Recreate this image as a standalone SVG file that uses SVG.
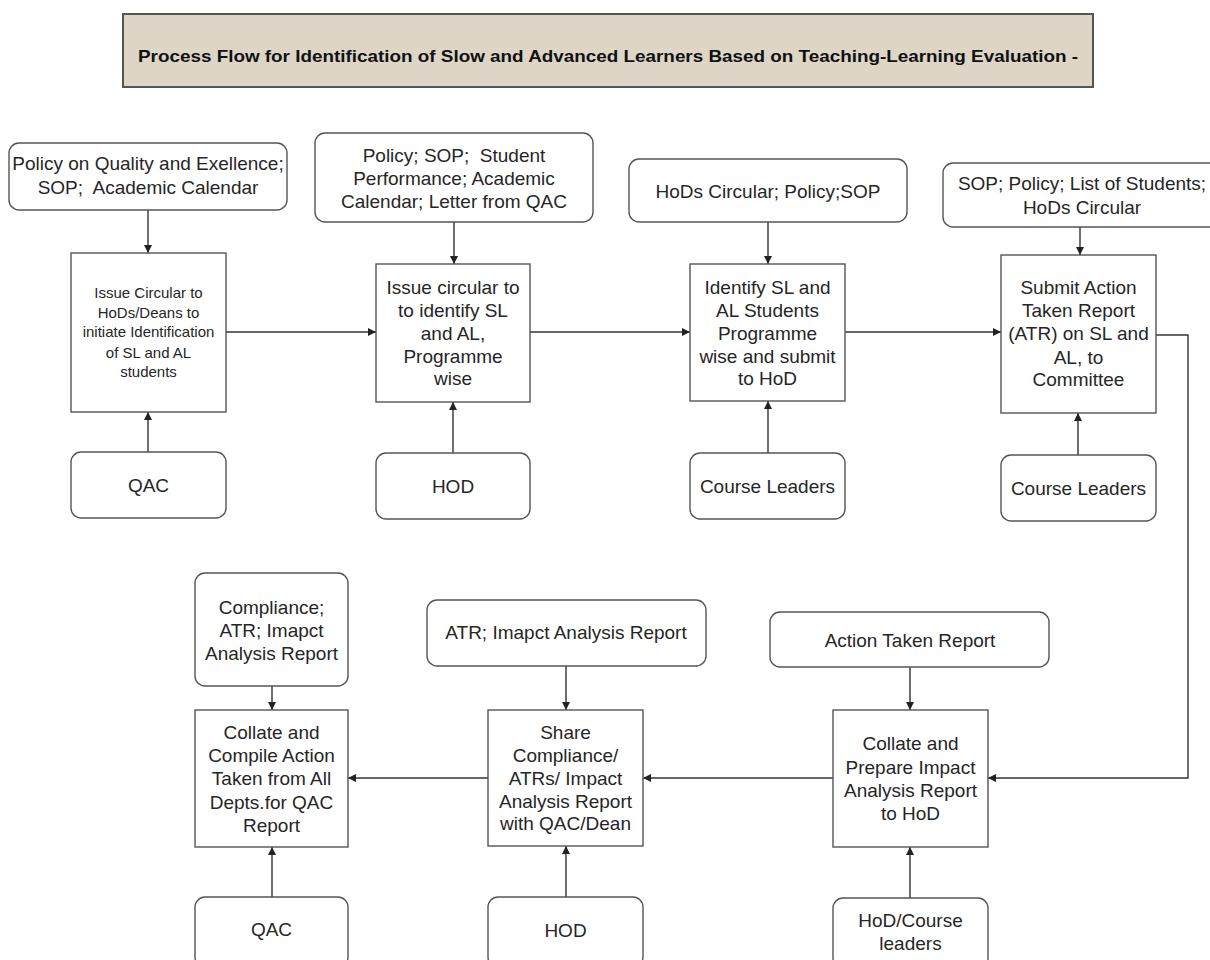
<svg xmlns="http://www.w3.org/2000/svg" width="1210" height="960" viewBox="0 0 1210 960">
<style>
.r{fill:#fff;stroke:#555;stroke-width:1.4}
.s{fill:#fff;stroke:#555;stroke-width:1.4}
.t{font-family:"Liberation Sans",Arial,sans-serif;font-size:19px;fill:#262626;text-anchor:middle;white-space:pre}
.sm{font-size:15px}
.c{fill:none;stroke:#333;stroke-width:1.4}
</style>
<defs>
<marker id="ah" viewBox="0 0 10 10" refX="10" refY="5" markerWidth="8" markerHeight="8" markerUnits="userSpaceOnUse" orient="auto">
<path d="M0,0 L10,5 L0,10 z" fill="#222"/>
</marker>
</defs>
<rect width="1210" height="960" fill="#fff"/>
<g id="title">
<rect x="123" y="14" width="970" height="73" fill="#ddd5c6" stroke="#555" stroke-width="2"/>
<text x="608" y="62" font-family="Liberation Sans,Arial,sans-serif" font-size="17" font-weight="bold" fill="#111" text-anchor="middle" textLength="940" lengthAdjust="spacingAndGlyphs">Process Flow for Identification of Slow and Advanced Learners Based on Teaching-Learning Evaluation -</text>
</g>
<g id="connectors">
<path class="c" d="M148,210 V253" marker-end="url(#ah)"/>
<path class="c" d="M148,452 V412" marker-end="url(#ah)"/>
<path class="c" d="M226,332 H376" marker-end="url(#ah)"/>
<path class="c" d="M454,222 V264" marker-end="url(#ah)"/>
<path class="c" d="M453,453 V402" marker-end="url(#ah)"/>
<path class="c" d="M530,332 H690" marker-end="url(#ah)"/>
<path class="c" d="M768,222 V264" marker-end="url(#ah)"/>
<path class="c" d="M768,453 V401" marker-end="url(#ah)"/>
<path class="c" d="M845,332 H1001" marker-end="url(#ah)"/>
<path class="c" d="M1080,227 V255" marker-end="url(#ah)"/>
<path class="c" d="M1078,455 V413" marker-end="url(#ah)"/>
<path class="c" d="M1156,335 H1188 V778 H988" marker-end="url(#ah)"/>
<path class="c" d="M910,667 V710" marker-end="url(#ah)"/>
<path class="c" d="M910,898 V847" marker-end="url(#ah)"/>
<path class="c" d="M833,778 H643" marker-end="url(#ah)"/>
<path class="c" d="M566,666 V710" marker-end="url(#ah)"/>
<path class="c" d="M566,897 V846" marker-end="url(#ah)"/>
<path class="c" d="M488,778 H348" marker-end="url(#ah)"/>
<path class="c" d="M272,686 V710" marker-end="url(#ah)"/>
<path class="c" d="M272,897 V847" marker-end="url(#ah)"/>
</g>
<g id="in1"><rect class="r" x="9" y="143" width="278" height="67" rx="10"/>
<text class="t" x="148" y="170">Policy on Quality and Exellence;</text>
<text class="t" x="148" y="194">SOP;  Academic Calendar</text></g>
<g id="in2"><rect class="r" x="315" y="133" width="278" height="89" rx="10"/>
<text class="t" x="454" y="162">Policy; SOP;  Student</text>
<text class="t" x="454" y="185">Performance; Academic</text>
<text class="t" x="454" y="208">Calendar; Letter from QAC</text></g>
<g id="in3"><rect class="r" x="629" y="159" width="278" height="63" rx="10"/>
<text class="t" x="768" y="198">HoDs Circular; Policy;SOP</text></g>
<g id="in4"><rect class="r" x="943" y="163" width="279" height="64" rx="10"/>
<text class="t" x="1082" y="190">SOP; Policy; List of Students;</text>
<text class="t" x="1082" y="214">HoDs Circular</text></g>
<g id="p1"><rect class="s" x="71" y="253" width="155" height="159"/>
<text class="t sm" x="148.5" y="298">Issue Circular to</text>
<text class="t sm" x="148.5" y="318">HoDs/Deans to</text>
<text class="t sm" x="148.5" y="337">initiate Identification</text>
<text class="t sm" x="148.5" y="358">of SL and AL</text>
<text class="t sm" x="148.5" y="377">students</text></g>
<g id="p2"><rect class="s" x="376" y="264" width="154" height="138"/>
<text class="t" x="453" y="294">Issue circular to</text>
<text class="t" x="453" y="317">to identify SL</text>
<text class="t" x="453" y="340">and AL,</text>
<text class="t" x="453" y="363">Programme</text>
<text class="t" x="453" y="385">wise</text></g>
<g id="p3"><rect class="s" x="690" y="264" width="155" height="137"/>
<text class="t" x="767.5" y="294">Identify SL and</text>
<text class="t" x="767.5" y="317">AL Students</text>
<text class="t" x="767.5" y="340">Programme</text>
<text class="t" x="767.5" y="363">wise and submit</text>
<text class="t" x="767.5" y="385">to HoD</text></g>
<g id="p4"><rect class="s" x="1001" y="255" width="155" height="158"/>
<text class="t" x="1078.5" y="294">Submit Action</text>
<text class="t" x="1078.5" y="317">Taken Report</text>
<text class="t" x="1078.5" y="340">(ATR) on SL and</text>
<text class="t" x="1078.5" y="364">AL, to</text>
<text class="t" x="1078.5" y="386">Committee</text></g>
<g id="a1"><rect class="r" x="71" y="452" width="155" height="66" rx="10"/>
<text class="t" x="148.5" y="492">QAC</text></g>
<g id="a2"><rect class="r" x="376" y="453" width="154" height="66" rx="10"/>
<text class="t" x="453" y="493">HOD</text></g>
<g id="a3"><rect class="r" x="690" y="453" width="155" height="66" rx="10"/>
<text class="t" x="767.5" y="493">Course Leaders</text></g>
<g id="a4"><rect class="r" x="1001" y="455" width="155" height="66" rx="10"/>
<text class="t" x="1078.5" y="495">Course Leaders</text></g>
<g id="in5"><rect class="r" x="195" y="573" width="153" height="113" rx="10"/>
<text class="t" x="271.5" y="614">Compliance;</text>
<text class="t" x="271.5" y="637">ATR; Imapct</text>
<text class="t" x="271.5" y="660">Analysis Report</text></g>
<g id="in6"><rect class="r" x="427" y="600" width="279" height="66" rx="10"/>
<text class="t" x="566" y="639">ATR; Imapct Analysis Report</text></g>
<g id="in7"><rect class="r" x="770" y="612" width="279" height="55" rx="10"/>
<text class="t" x="910" y="647">Action Taken Report</text></g>
<g id="p5"><rect class="s" x="195" y="710" width="153" height="137"/>
<text class="t" x="271.5" y="739">Collate and</text>
<text class="t" x="271.5" y="762">Compile Action</text>
<text class="t" x="271.5" y="785">Taken from All</text>
<text class="t" x="271.5" y="809">Depts.for QAC</text>
<text class="t" x="271.5" y="832">Report</text></g>
<g id="p6"><rect class="s" x="488" y="710" width="155" height="136"/>
<text class="t" x="565.5" y="739">Share</text>
<text class="t" x="565.5" y="762">Compliance/</text>
<text class="t" x="565.5" y="785">ATRs/ Impact</text>
<text class="t" x="565.5" y="808">Analysis Report</text>
<text class="t" x="565.5" y="830">with QAC/Dean</text></g>
<g id="p7"><rect class="s" x="833" y="710" width="155" height="137"/>
<text class="t" x="910.5" y="750">Collate and</text>
<text class="t" x="910.5" y="774">Prepare Impact</text>
<text class="t" x="910.5" y="797">Analysis Report</text>
<text class="t" x="910.5" y="820">to HoD</text></g>
<g id="a5"><rect class="r" x="195" y="897" width="153" height="70" rx="10"/>
<text class="t" x="271.5" y="936">QAC</text></g>
<g id="a6"><rect class="r" x="488" y="897" width="155" height="70" rx="10"/>
<text class="t" x="565.5" y="937">HOD</text></g>
<g id="a7"><rect class="r" x="833" y="898" width="155" height="70" rx="10"/>
<text class="t" x="910.5" y="927">HoD/Course</text>
<text class="t" x="910.5" y="950">leaders</text></g>
</svg>
